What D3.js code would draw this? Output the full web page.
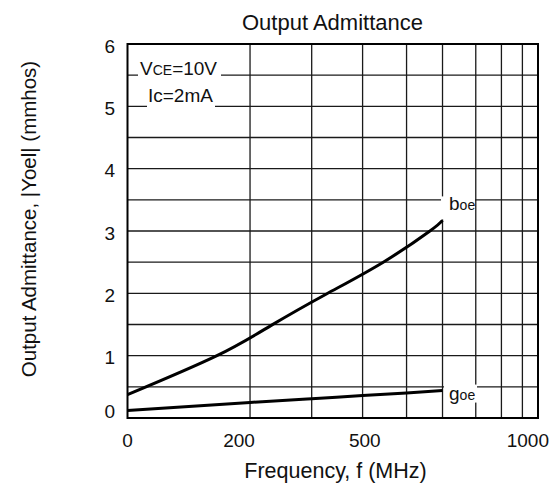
<!DOCTYPE html>
<html><head><meta charset="utf-8">
<script src="https://cdn.jsdelivr.net/npm/d3@7/dist/d3.min.js"></script>
<style>body{margin:0;background:#fff}svg{display:block}text{font-family:"Liberation Sans",Arial,sans-serif;fill:#111}</style>
</head><body><svg id="c" width="558" height="485"></svg>
<script>
// ---- data ----
const gridFreqs = [100,200,300,400,500,600,700,800,900,1000];
const xTickValues = [100,191,405,935];
const xTickLabels = ["0","200","500","1000"];
const yTicks = [0,1,2,3,4,5,6];
const yGrid = [0.5,1,1.5,2,2.5,3,3.5,4,4.5,5,5.5];
const boeFreq = [100,173,235,329,447,565,600];
const boeVal  = [0.374,1.0,1.49,1.99,2.50,3.00,3.17];
const goeFreq = [100,200,300,400,500,600];
const goeVal  = [0.12,0.25,0.31,0.36,0.40,0.44];

// ---- layout ----
const L=127.5, R=538, T=44, B=418;
const warp=[0,.2985,.4487,.5727,.6798,.7674,.8484,.9109,.9620,1];
const x=d3.scaleLinear().domain(gridFreqs).range(warp.map(w=>L+(R-L)*w));
const y=d3.scaleLinear().domain([0,6]).range([B,T]);
const svg=d3.select("#c");

// grid
const g=svg.append("g").attr("stroke","#1a1a1a").attr("stroke-width",1.3);
g.selectAll("line.v").data(gridFreqs.slice(1,-1)).join("line")
 .attr("x1",d=>x(d)).attr("x2",d=>x(d)).attr("y1",T).attr("y2",B);
g.selectAll("line.h").data(yGrid).join("line")
 .attr("x1",L).attr("x2",R).attr("y1",d=>y(d)).attr("y2",d=>y(d));
// frame
svg.append("rect").attr("x",L).attr("y",T).attr("width",R-L).attr("height",B-T)
 .attr("fill","none").attr("stroke","#000").attr("stroke-width",2);

// label backgrounds
function bg(x0,y0,w,h){svg.append("rect").attr("x",x0).attr("y",y0).attr("width",w).attr("height",h).attr("fill","#fff");}
bg(138,58,83,21);
bg(147,86,68,24);
const bEnd=[x(boeFreq[boeFreq.length-1]),y(boeVal[boeVal.length-1])];
const gEnd=[x(goeFreq[goeFreq.length-1]),y(goeVal[goeVal.length-1])];
bg(bEnd[0]-1.5,bEnd[1]-24,34,23);
bg(bEnd[0]+1.5,gEnd[1]-6,33,18);

// curves
const line=d3.line().curve(d3.curveNatural);
svg.append("path").attr("d",line(boeFreq.map((f,i)=>[x(f),y(boeVal[i])])))
 .attr("fill","none").attr("stroke","#000").attr("stroke-width",3);
svg.append("path").attr("d",line(goeFreq.map((f,i)=>[x(f),y(goeVal[i])])))
 .attr("fill","none").attr("stroke","#000").attr("stroke-width",3);

// curve labels
const tb=svg.append("text").attr("x",bEnd[0]+6.5).attr("y",bEnd[1]-10).attr("font-size",19);
tb.append("tspan").text("b"); tb.append("tspan").attr("font-size",14).text("oe");
const tg=svg.append("text").attr("x",gEnd[0]+6.5).attr("y",gEnd[1]+9).attr("font-size",19);
tg.append("tspan").text("g"); tg.append("tspan").attr("font-size",14).text("oe");

// conditions
const tv=svg.append("text").attr("x",140).attr("y",74.5).attr("font-size",19);
tv.append("tspan").text("V"); tv.append("tspan").attr("font-size",14).text("CE"); tv.append("tspan").text("=10V");
svg.append("text").attr("x",148).attr("y",101.5).attr("font-size",19).text("Ic=2mA");

// y ticks
svg.selectAll("text.yt").data(yTicks).join("text")
 .attr("x",115).attr("y",d=>y(d)+(d===0?-7:2)).attr("dy","0.35em")
 .attr("text-anchor","end").attr("font-size",19).text(d=>d);
// x ticks
svg.selectAll("text.xt").data(xTickValues).join("text")
 .attr("x",d=>x(d)).attr("y",447).attr("text-anchor","middle").attr("font-size",19)
 .text((d,i)=>xTickLabels[i]);

// titles
svg.append("text").attr("x",332.5).attr("y",30).attr("text-anchor","middle").attr("font-size",22).text("Output Admittance");
svg.append("text").attr("x",335.5).attr("y",478).attr("text-anchor","middle").attr("font-size",21.5).text("Frequency, f (MHz)");
svg.append("text").attr("transform","translate(36,219) rotate(-90)").attr("text-anchor","middle").attr("font-size",20.5)
 .text("Output Admittance, |Yoel| (mmhos)");
</script></body></html>
